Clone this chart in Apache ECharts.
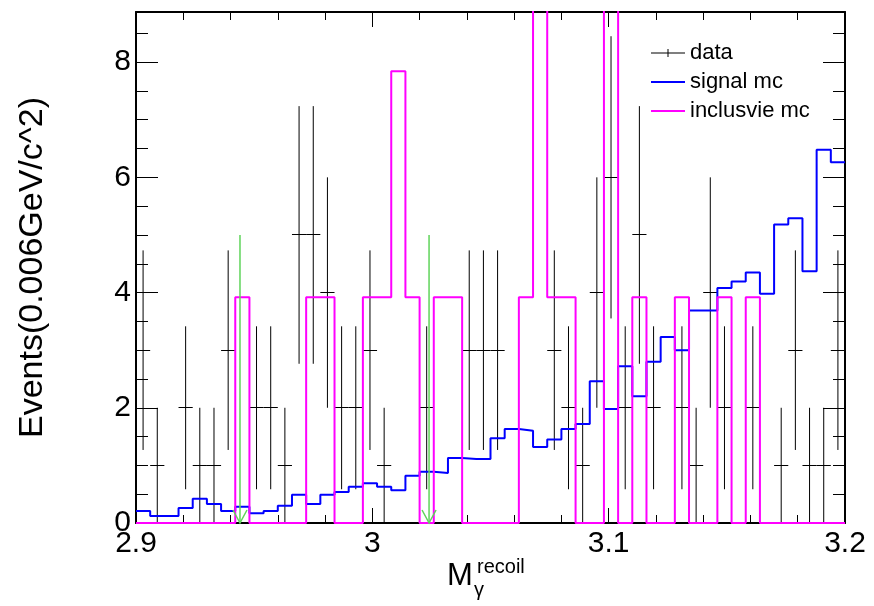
<!DOCTYPE html>
<html>
<head>
<meta charset="utf-8">
<script src="https://cdn.jsdelivr.net/npm/echarts@6/dist/echarts.min.js"></script>
<style>
  html, body { margin: 0; padding: 0; background: #fff; }
  #chart { width: 874px; height: 606px; }
</style>
</head>
<body>
<div id="chart"></div>
<script>
// Histogram binning: 50 bins of 0.006 GeV/c^2 between 2.9 and 3.2
const xMin = 2.9;
const xMax = 3.2;
const binWidth = 0.006;
const yMin = 0;
const yMax = 8.87;

// Axis tick values
const xTickInterval = 0.1;
const yTickInterval = 2;
const yMinorInterval = 0.5;

// Events per bin
const dataCounts = [
  3, 1, 0, 2, 1, 1, 3, 0, 2, 2,
  1, 5, 5, 4, 2, 2, 3, 1, 0, 0,
  2, 0, 0, 3, 3, 3, 0, 0, 0, 3,
  2, 1, 4, 6, 2, 5, 2, 0, 2, 1,
  4, 2, 0, 2, 0, 1, 3, 1, 1, 3
];

const signalMc = [
  0.21, 0.12, 0.12, 0.26, 0.42, 0.33, 0.21, 0.28, 0.17, 0.21,
  0.30, 0.49, 0.33, 0.49, 0.54, 0.63, 0.69, 0.63, 0.57, 0.82,
  0.89, 0.87, 1.13, 1.11, 1.11, 1.47, 1.63, 1.60, 1.32, 1.45,
  1.63, 1.72, 2.46, 1.98, 2.72, 2.20, 2.80, 3.23, 3.00, 3.69,
  3.69, 4.08, 4.19, 4.35, 3.98, 5.18, 5.29, 4.37, 6.48, 6.26
];

const inclusiveMc = [
  0, 0, 0, 0, 0, 0, 0, 3.92, 0, 0,
  0, 0, 3.92, 3.92, 0, 0, 3.92, 3.92, 7.84, 3.92,
  0, 3.92, 3.92, 0, 0, 0, 0, 3.92, 11.76, 3.92,
  3.92, 0, 0, 11.76, 0, 3.92, 0, 0, 3.92, 0,
  0, 3.92, 0, 3.92, 0, 0, 0, 0, 0, 0
];

// Selection window markers
const cutPositions = [2.944, 3.024];
const cutHeight = 5;

const legendNames = ['data', 'signal mc', 'inclusvie mc'];

const FONT = '"Liberation Sans", Arial, Helvetica, sans-serif';

const binLow = dataCounts.map((_, k) => xMin + k * binWidth);
const binCenter = binLow.map(x => x + binWidth / 2);

// step outline: one point per lower bin edge, closed at the upper edge
function stepPoints(values) {
  const pts = values.map((v, k) => [binLow[k], v]);
  pts.push([xMax, values[values.length - 1]]);
  return pts;
}

const dataPoints = dataCounts.map((n, k) => [binCenter[k], n]);
const cutPoints = cutPositions.map(x => [x, cutHeight]);

const crisp = v => Math.round(v - 0.5) + 0.5;

const chart = echarts.init(document.getElementById('chart'), null, { renderer: 'canvas' });

const tickStyle = { color: '#000', width: 1 };
const frameStyle = { color: '#000', width: 2 };

const baseX = {
  type: 'value', min: xMin, max: xMax, interval: xTickInterval,
  axisLine: { show: true, onZero: false, lineStyle: frameStyle },
  axisTick: { show: true, inside: true, length: 15, lineStyle: tickStyle },
  minorTick: { show: true, splitNumber: 5, length: 8, lineStyle: tickStyle },
  splitLine: { show: false }, minorSplitLine: { show: false }
};

function yAxisDef(position, interval, tickLen, withLine, withLabels) {
  const ax = {
    type: 'value', position: position, min: yMin, max: yMax, interval: interval, offset: 0,
    axisLine: { show: withLine, onZero: false, lineStyle: frameStyle },
    axisTick: { show: true, inside: true, length: tickLen, lineStyle: tickStyle },
    splitLine: { show: false },
    axisLabel: { show: false }
  };
  if (withLabels) {
    ax.axisLabel = {
      show: true, showMaxLabel: false, color: '#000', fontSize: 30, fontFamily: FONT, margin: 5,
      formatter: v => String(Math.round(v))
    };
    ax.name = 'Events(0.006GeV/c^2)';
    ax.nameLocation = 'middle';
    ax.nameRotate = 90;
    ax.nameGap = 86;
    ax.nameTextStyle = { color: '#000', fontSize: 34, fontFamily: FONT };
  }
  return ax;
}

const legendText = { color: '#000', fontSize: 22, fontFamily: FONT };

const option = {
  animation: false,
  backgroundColor: '#fff',
  grid: { left: 136, right: 29, top: 12, bottom: 83, containLabel: false, outerBoundsMode: 'none' },
  legend: [
    {
      orient: 'vertical', left: 651, top: 42, padding: 0, itemWidth: 34, itemHeight: 8, itemGap: 7,
      textStyle: legendText, selectedMode: false,
      data: [{ name: legendNames[0], icon: 'path://M0,3.5L34,3.5L34,4.5L0,4.5Z M16.5,0L17.5,0L17.5,8L16.5,8Z' }]
    },
    {
      orient: 'vertical', left: 651, top: 71, padding: 0, itemWidth: 34, itemHeight: 2, itemGap: 7,
      textStyle: legendText, selectedMode: false, icon: 'rect',
      data: [legendNames[1], legendNames[2]]
    }
  ],
  xAxis: [
    Object.assign({}, baseX, {
      position: 'bottom',
      axisLabel: {
        show: true, color: '#000', fontSize: 30, fontFamily: FONT, margin: 6,
        formatter: v => String(Math.round(v * 10) / 10)
      }
    }),
    Object.assign({}, baseX, { position: 'top', axisLabel: { show: false } })
  ],
  yAxis: [
    yAxisDef('left', yTickInterval, 22, true, true),
    yAxisDef('left', yMinorInterval, 12, false, false),
    yAxisDef('right', yTickInterval, 22, true, false),
    yAxisDef('right', yMinorInterval, 12, false, false)
  ],
  graphic: [
    { type: 'text', x: 447, y: 576, z: 10,
      style: { text: 'M', font: '31px ' + FONT, fill: '#000', align: 'left', verticalAlign: 'middle' } },
    { type: 'text', x: 474, y: 590, z: 10,
      style: { text: 'γ', font: '20px ' + FONT, fill: '#000', align: 'left', verticalAlign: 'middle' } },
    { type: 'text', x: 477, y: 567, z: 10,
      style: { text: 'recoil', font: '20px ' + FONT, fill: '#000', align: 'left', verticalAlign: 'middle' } }
  ],
  series: [
    {
      name: legendNames[0],
      type: 'custom',
      xAxisIndex: 0, yAxisIndex: 0,
      itemStyle: { color: '#000' },
      data: dataPoints,
      z: 2,
      renderItem: function (params, api) {
        const c = api.value(0);
        const n = api.value(1);
        if (!(n > 0)) return null;
        const err = Math.sqrt(n);
        const l = api.coord([c - binWidth / 2, n]);
        const r = api.coord([c + binWidth / 2, n]);
        const t = api.coord([c, n + err]);
        const b = api.coord([c, n - err]);
        const yc = crisp(l[1]);
        return {
          type: 'group',
          children: [
            { type: 'line', shape: { x1: l[0], y1: yc, x2: r[0], y2: yc },
              style: { stroke: '#000', lineWidth: 1 } },
            { type: 'line', shape: { x1: t[0], y1: t[1], x2: b[0], y2: b[1] },
              style: { stroke: '#000', lineWidth: 1 } }
          ]
        };
      }
    },
    {
      name: legendNames[1],
      type: 'line',
      xAxisIndex: 0, yAxisIndex: 0,
      step: 'end',
      symbol: 'none',
      clip: true,
      itemStyle: { color: '#0000ff' },
      lineStyle: { color: '#0000ff', width: 2 },
      data: stepPoints(signalMc),
      z: 3
    },
    {
      name: legendNames[2],
      type: 'line',
      xAxisIndex: 0, yAxisIndex: 0,
      step: 'end',
      symbol: 'none',
      clip: true,
      itemStyle: { color: '#ff00ff' },
      lineStyle: { color: '#ff00ff', width: 2 },
      data: stepPoints(inclusiveMc),
      z: 4
    },
    {
      name: 'cuts',
      type: 'custom',
      xAxisIndex: 0, yAxisIndex: 0,
      data: cutPoints,
      z: 5,
      renderItem: function (params, api) {
        const top = api.coord([api.value(0), api.value(1)]);
        const bot = api.coord([api.value(0), 0]);
        const green = '#5fd45a';
        return {
          type: 'group',
          children: [
            { type: 'line', shape: { x1: top[0], y1: top[1], x2: bot[0], y2: bot[1] },
              style: { stroke: green, lineWidth: 1.5 } },
            { type: 'polyline', shape: { points: [[bot[0] - 7, bot[1] - 13], [bot[0], bot[1]], [bot[0] + 7, bot[1] - 13]] },
              style: { stroke: green, lineWidth: 1.5, fill: null } }
          ]
        };
      }
    }
  ]
};

chart.setOption(option);
</script>
</body>
</html>
